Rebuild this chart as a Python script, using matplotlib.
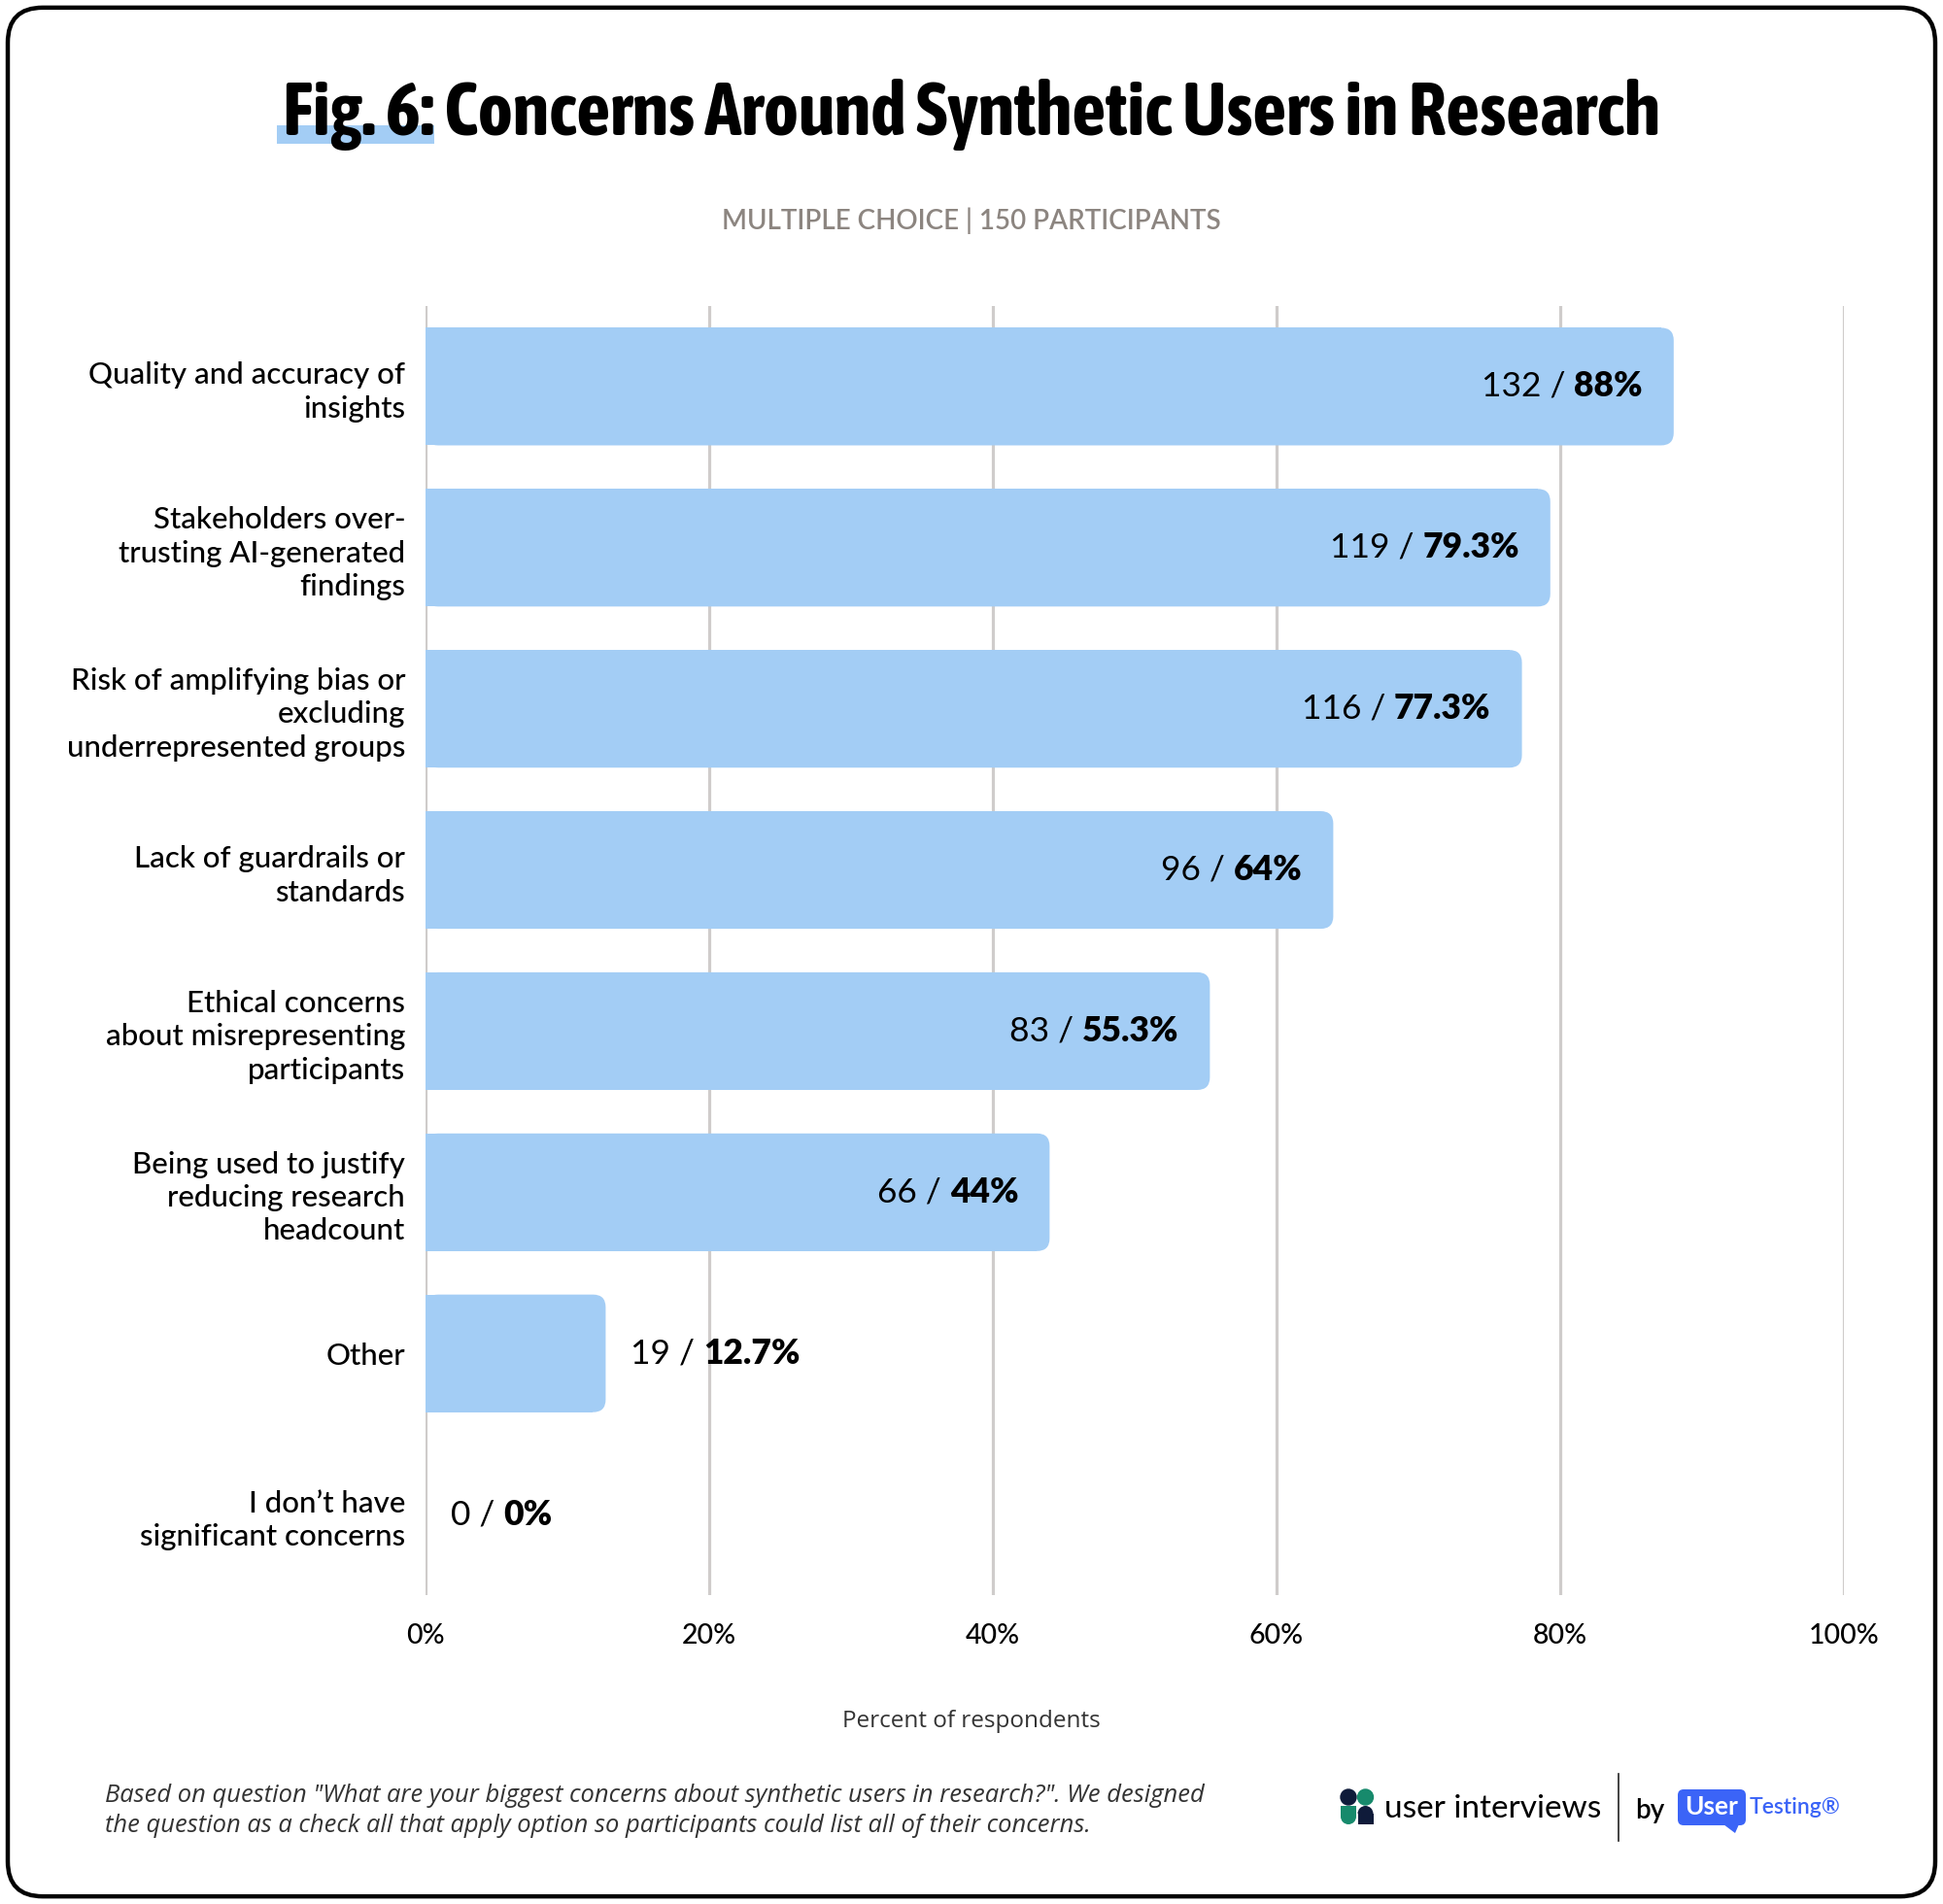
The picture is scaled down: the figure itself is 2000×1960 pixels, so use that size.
import matplotlib
matplotlib.use("Agg")
import matplotlib.pyplot as plt
from matplotlib import font_manager
from matplotlib.patches import FancyBboxPatch, Rectangle, Circle, Wedge, Polygon

# data
categories = [
    "Quality and accuracy of\ninsights",
    "Stakeholders over-\ntrusting AI-generated\nfindings",
    "Risk of amplifying bias or\nexcluding\nunderrepresented groups",
    "Lack of guardrails or\nstandards",
    "Ethical concerns\nabout misrepresenting\nparticipants",
    "Being used to justify\nreducing research\nheadcount",
    "Other",
    "I don\u2019t have\nsignificant concerns",
]
counts = [132, 119, 116, 96, 83, 66, 19, 0]
percents = [88, 79.3, 77.3, 64, 55.3, 44, 12.7, 0]
pct_labels = ["88%", "79.3%", "77.3%", "64%", "55.3%", "44%", "12.7%", "0%"]
xticks = [0, 20, 40, 60, 80, 100]
xtick_labels = ["0%", "20%", "40%", "60%", "80%", "100%"]

BAR = "#a3cdf5"
GRID = "#cfcccb"
FONT = "Lato"

# narrowest bold face available for the title
fonts = font_manager.fontManager.ttflist
title_family, title_stretch = "Roboto", "normal"
for f in fonts:
    if ("Condensed" in f.name or "Narrow" in f.name) and f.weight in (700, "bold"):
        title_family, title_stretch = f.name, "normal"
        break
else:
    if any(f.name == "DejaVu Sans" and f.stretch == "condensed" for f in fonts):
        title_family, title_stretch = "DejaVu Sans", "condensed"

W, H = 2000, 1960
fig = plt.figure(figsize=(W / 100, H / 100), dpi=100)
fig.patch.set_facecolor("white")

# rounded black frame
frame = FancyBboxPatch((0.004, 0.004), 0.992, 0.992, boxstyle="round,pad=0,rounding_size=0.018",
                       mutation_aspect=W / H, transform=fig.transFigure,
                       facecolor="none", edgecolor="black", lw=3.2, zorder=5)
fig.patches.append(frame)

ax_l, ax_r, ax_t, ax_b = 438, 1898, 315, 1642
ax = fig.add_axes([ax_l / W, 1 - ax_b / H, (ax_r - ax_l) / W, (ax_b - ax_t) / H])
ax.set_facecolor("none")
ax.set_xlim(0, 100)
ax.set_ylim(len(categories) - 0.5, -0.5)
ax.set_xticks(xticks)
ax.set_xticklabels(xtick_labels, fontsize=20.5, family=FONT, fontweight="medium")
ax.set_yticks(range(len(categories)))
ax.set_yticklabels(categories, fontsize=22.5, family=FONT, fontweight="medium")
for lbl in ax.get_yticklabels():
    lbl.set_linespacing(1.28)
ax.tick_params(axis="x", length=0, pad=21)
ax.tick_params(axis="y", length=0, pad=15)
ax.grid(axis="x", color=GRID, lw=2.3)
ax.set_axisbelow(True)
for s in ax.spines.values():
    s.set_visible(False)

# bars with rounded right end
px_x = (ax_r - ax_l) / 100
px_y = (ax_b - ax_t) / len(categories)
h = 0.73
r = 13 / px_x
for i, v in enumerate(percents):
    if v <= 0:
        continue
    ax.barh(i, v - r, height=h, color=BAR, lw=0, zorder=2)
    ax.add_patch(FancyBboxPatch((0, i - h / 2), v, h,
                                boxstyle=f"round,pad=0,rounding_size={r}",
                                mutation_aspect=px_x / px_y,
                                facecolor=BAR, edgecolor="none", zorder=2))

# value labels: "count / pct" with pct in bold
renderer = fig.canvas.get_renderer()
inv = ax.transData.inverted()
gap = 9
for i, (c, v, p) in enumerate(zip(counts, percents, pct_labels)):
    if v > 30:
        tb = ax.text(v - 32 / px_x, i, p, ha="right", va="center", fontsize=25.5,
                     family=FONT, fontweight="heavy", color="black", zorder=3)
        bb = tb.get_window_extent(renderer)
        x0 = inv.transform((bb.x0 - gap, 0))[0]
        ax.text(x0, i, f"{c} /", ha="right", va="center", fontsize=25.5,
                family=FONT, fontweight="normal", color="black", zorder=3)
    else:
        tn = ax.text(v + 26 / px_x, i, f"{c} /", ha="left", va="center", fontsize=25.5,
                     family=FONT, fontweight="normal", color="black", zorder=3)
        bb = tn.get_window_extent(renderer)
        x1 = inv.transform((bb.x1 + gap, 0))[0]
        ax.text(x1, i, p, ha="left", va="center", fontsize=25.5,
                family=FONT, fontweight="heavy", color="black", zorder=3)

# title sized to the reference width, highlight under "Fig. 6:"
title = "Fig. 6: Concerns Around Synthetic Users in Research"
tprops = dict(fontweight="bold", family=title_family, fontstretch=title_stretch)
probe = fig.text(0, 0, title, fontsize=50, **tprops)
tsize = min(56, 50 * 1420 / probe.get_window_extent(renderer).width)
probe.remove()
tt = fig.text(0.5, 1 - 139 / H, title, ha="center", va="baseline", zorder=3, fontsize=tsize, **tprops)
tbb = tt.get_window_extent(renderer)
tmp = fig.text(0, 0, "Fig. 6:", fontsize=tsize, **tprops)
pw = tmp.get_window_extent(renderer).width
tmp.remove()
fig.patches.append(Rectangle(((tbb.x0 - 6) / W, 1 - 148 / H), (pw + 6) / W, 19 / H,
                             transform=fig.transFigure, facecolor=BAR, edgecolor="none", zorder=2))

fig.text(0.5, 1 - 227 / H, "MULTIPLE CHOICE | 150 PARTICIPANTS", ha="center", va="center",
         fontsize=20, family=FONT, fontweight="semibold", color="#8c8580")

fig.text(0.5, 1 - 1772 / H, "Percent of respondents", ha="center", va="center",
         fontsize=17.5, family="Open Sans", color="#333333")

fig.text(108 / W, 1 - 1864 / H,
         "Based on question \"What are your biggest concerns about synthetic users in research?\". We designed\n"
         "the question as a check all that apply option so participants could list all of their concerns.",
         ha="left", va="center", fontsize=18.4, family="Open Sans", style="italic", color="#333333",
         linespacing=1.3)

# logo in pixel coordinates
lx0, lx1, ly0, ly1 = 1370, 1930, 1820, 1900
lax = fig.add_axes([lx0 / W, 1 - ly1 / H, (lx1 - lx0) / W, (ly1 - ly0) / H])
lax.set_xlim(lx0, lx1)
lax.set_ylim(ly1, ly0)
lax.axis("off")
NAVY, GREEN, BLUE = "#0f1b3a", "#178a6c", "#3b64f7"
lax.add_patch(Circle((1388, 1850), 8, color=NAVY))
lax.add_patch(Circle((1405.5, 1850), 8, color=GREEN))
lax.add_patch(Rectangle((1380, 1859), 16, 11, color=GREEN, lw=0))
lax.add_patch(Wedge((1388, 1870), 8, 0, 180, color=GREEN, lw=0))
lax.add_patch(Rectangle((1397.5, 1867), 16, 11, color=NAVY, lw=0))
lax.add_patch(Wedge((1405.5, 1867), 8, 180, 360, color=NAVY, lw=0))
lax.text(1425, 1862, "user interviews", ha="left", va="center", fontsize=24, family=FONT, color="black")
lax.plot([1666, 1666], [1826, 1895], color="#222222", lw=1.2)
lax.text(1683, 1864, "by", ha="left", va="center", fontsize=20, family=FONT,
         fontweight="semibold", color="black")
lax.add_patch(FancyBboxPatch((1727, 1842), 70, 37, boxstyle="round,pad=0,rounding_size=6",
                             facecolor=BLUE, edgecolor="none"))
lax.add_patch(Polygon([[1774, 1878], [1790, 1878], [1786, 1887]], closed=True, color=BLUE, lw=0))
lax.text(1762, 1860, "User", ha="center", va="center", fontsize=19, family=FONT,
         fontweight="bold", color="white")
lax.text(1801, 1860, "Testing\u00ae", ha="left", va="center", fontsize=16.5, family=FONT,
         fontweight="semibold", color=BLUE)

fig.savefig("out.png", dpi=100, facecolor="white")
